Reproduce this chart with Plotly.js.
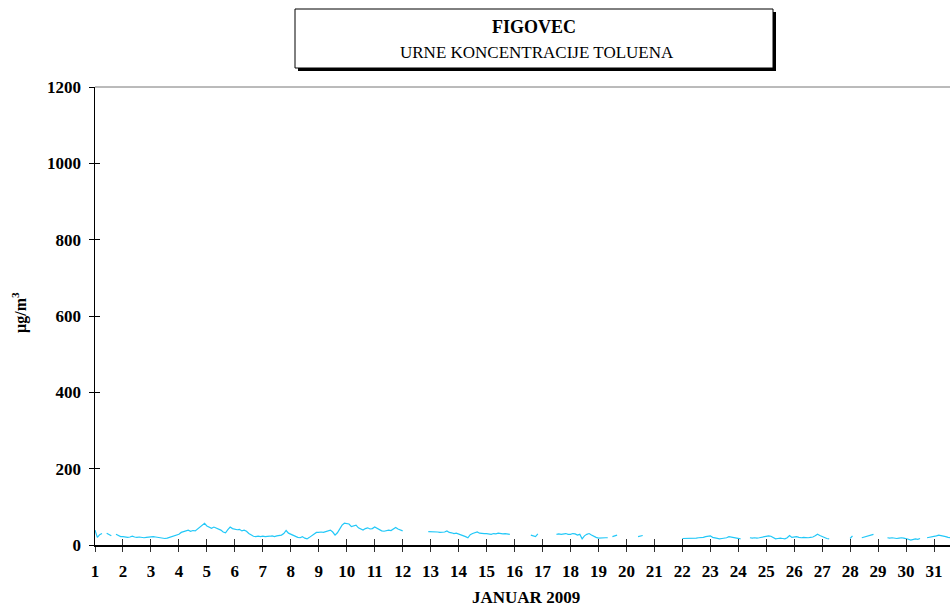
<!DOCTYPE html>
<html>
<head>
<meta charset="utf-8">
<script src="https://cdn.plot.ly/plotly-3.0.1.min.js"></script>
<style>html,body{margin:0;padding:0;background:#fff;}#chart{width:950px;height:606px;}</style>
</head>
<body>
<div id="chart"></div>
<script>
// Titles and labels
var chartTitle = "FIGOVEC";
var chartSubtitle = "URNE KONCENTRACIJE TOLUENA";
var xAxisLabel = "JANUAR 2009";
var yAxisLabel = "µg/m<sup>3</sup>";
var yTicks = [0, 200, 400, 600, 800, 1000, 1200];
var dayTicks = [1,2,3,4,5,6,7,8,9,10,11,12,13,14,15,16,17,18,19,20,21,22,23,24,25,26,27,28,29,30,31];
var stepsPerDay = 12; // readings every 2 hours

// Toluene concentration (µg/m3), 12 readings per day, null = missing
var toluene = [
  // day 1
  39, 20, 27, 30, null, 31, 28, 24, null, 28, 25, 22,
  // day 2
  22, 21, 20, 21, 23, 21, 20, 21, 20, 19, 20, 21,
  // day 3
  21, 22, 21, 20, 19, 18, 17, 18, 20, 22, 24, 26,
  // day 4
  28, 33, 35, 37, 39, 36, 38, 37, 42, 45, 52, 57,
  // day 5
  50, 46, 44, 47, 45, 41, 39, 34, 32, 40, 47, 43,
  // day 6
  42, 40, 41, 37, 39, 36, 30, 26, 23, 22, 23, 22,
  // day 7
  23, 22, 22, 23, 24, 22, 24, 25, 26, 30, 38, 31,
  // day 8
  28, 25, 22, 20, 19, 22, 18, 16, 20, 25, 30, 33,
  // day 9
  33, 34, 33, 35, 36, 39, 34, 26, 32, 42, 52, 57,
  // day 10
  56, 55, 48, 51, 52, 45, 41, 39, 43, 45, 42, 43,
  // day 11
  47, 43, 39, 37, 36, 38, 39, 38, 41, 46, 42, 39,
  // day 12
  37, null, null, null, null, null, null, null, null, null, null, 35,
  // day 13
  35, 34, 35, 34, 33, 33, 34, 37, 33, 32, 30, 31,
  // day 14
  29, 28, 25, 22, 19, 27, 30, 32, 34, 31, 30, 30,
  // day 15
  30, 29, 28, 30, 29, 31, 30, 29, 30, 29, 28, null,
  // day 16
  null, null, null, null, null, null, null, 26, 25, 22, 29, null,
  // day 17
  null, null, null, null, null, null, 28, 29, 28, 29, 30, 28,
  // day 18
  28, 30, 29, 26, 28, 16, 24, 28, 30, 26, 22, 20,
  // day 19
  18, 19, 18, 19, 19, null, 22, 24, 26, null, null, null,
  // day 20
  null, null, null, null, null, 22, 23, 25, null, null, null, null,
  // day 21
  null, null, null, null, null, null, null, null, null, null, null, null,
  // day 22
  17, 17, 18, 18, 17, 18, 18, 19, 19, 20, 22, 24,
  // day 23
  24, 20, 18, 17, 16, 17, 18, 19, 22, 21, 20, 19,
  // day 24
  17, 16, null, null, null, 19, 18, 19, 18, 19, 20, 21,
  // day 25
  22, 24, 23, 19, 16, 17, 18, 17, 16, 19, 25, 20,
  // day 26
  21, 22, 20, 19, 20, 19, 19, 20, 21, 24, 28, 25,
  // day 27
  22, 18, 17, 16, null, null, null, null, null, null, null, null,
  // day 28
  17, 24, null, null, null, 19, 21, 22, 23, 26, 28, null,
  // day 29
  28, null, null, null, 19, 18, 19, 18, 17, 18, 19, 18,
  // day 30
  17, 15, 13, 14, 16, 15, 17, null, null, 19, 20, 21,
  // day 31
  22, 24, 26, 25, 24, 22, 20, 19, 18, 18, 19, 18
];

var xTimes = toluene.map(function(v, i){ return 1 + i / stepsPerDay; });

var serif = "Liberation Serif, Times New Roman, serif";

var trace = {
  x: xTimes, y: toluene, type: "scatter", mode: "lines",
  line: {color: "#22C8F8", width: 1.2}, connectgaps: false, hoverinfo: "skip",
  showlegend: false
};
var dummy = {x: [1], y: [0], xaxis: "x2", yaxis: "y2", mode: "none", showlegend: false, hoverinfo: "skip"};

var xRange = [1, 31.57];
var yRange = [0, 1200];

var layout = {
  width: 950, height: 606,
  margin: {l: 95, r: 0, t: 87, b: 61},
  paper_bgcolor: "#fff", plot_bgcolor: "#fff",
  font: {family: serif, color: "#000"},
  xaxis: {
    range: xRange, tickvals: dayTicks, ticktext: dayTicks.map(String),
    ticks: "outside", ticklen: 5, tickwidth: 1, tickcolor: "#333", ticklabelstandoff: 5,
    showline: true, linecolor: "#000", linewidth: 1.5, showgrid: false, zeroline: false,
    tickfont: {family: serif, size: 17, color: "#000", weight: "bold"}
  },
  yaxis: {
    range: yRange, tickvals: yTicks,
    ticks: "outside", ticklen: 5, tickwidth: 1, tickcolor: "#000", ticklabelstandoff: 4,
    showline: true, linecolor: "#000", linewidth: 1.5, showgrid: false, zeroline: false,
    tickfont: {family: serif, size: 17, color: "#000", weight: "bold"}
  },
  xaxis2: {overlaying: "x", range: xRange, tickvals: dayTicks, ticks: "inside", ticklen: 6, tickwidth: 1, tickcolor: "#333",
    showticklabels: false, showline: false, showgrid: false, zeroline: false, side: "bottom"},
  yaxis2: {overlaying: "y", range: yRange, tickvals: yTicks, ticks: "inside", ticklen: 5, tickwidth: 1, tickcolor: "#000",
    showticklabels: false, showline: false, showgrid: false, zeroline: false, side: "left"},
  shapes: [
    // top frame line of plot area
    {type: "line", xref: "paper", yref: "paper", x0: 0, x1: 1, y0: 1, y1: 1, line: {color: "#777", width: 1}},
    // title box shadow
    {type: "rect", xref: "paper", yref: "paper", layer: "above",
     x0: (298-95)/855, x1: (776-95)/855, y0: (606-71-61)/458, y1: (606-12-61)/458,
     fillcolor: "#000", line: {width: 0}},
    // title box
    {type: "rect", xref: "paper", yref: "paper", layer: "above",
     x0: (295-95)/855, x1: (773-95)/855, y0: (606-68-61)/458, y1: (606-9-61)/458,
     fillcolor: "#fff", line: {color: "#000", width: 1}}
  ],
  annotations: [
    {text: "<b>" + chartTitle + "</b>", xref: "paper", yref: "paper", x: (534-95)/855, y: (606-27-61)/458,
     showarrow: false, font: {family: serif, size: 18, color: "#000"}, xanchor: "center", yanchor: "middle"},
    {text: chartSubtitle, xref: "paper", yref: "paper", x: (537-95)/855, y: (606-53-61)/458,
     showarrow: false, font: {family: serif, size: 17, color: "#000"}, xanchor: "center", yanchor: "middle"},
    {text: "<b>" + xAxisLabel + "</b>", xref: "paper", yref: "paper", x: (526-95)/855, y: (606-597-61)/458,
     showarrow: false, font: {family: serif, size: 17, color: "#000"}, xanchor: "center", yanchor: "middle"},
    {text: "<b>" + yAxisLabel + "</b>", xref: "paper", yref: "paper", x: (19-95)/855, y: (606-313-61)/458,
     showarrow: false, textangle: -90, font: {family: serif, size: 16, color: "#000"}, xanchor: "center", yanchor: "middle"}
  ]
};

Plotly.newPlot("chart", [trace, dummy], layout, {staticPlot: true, displayModeBar: false});
</script>
</body>
</html>
